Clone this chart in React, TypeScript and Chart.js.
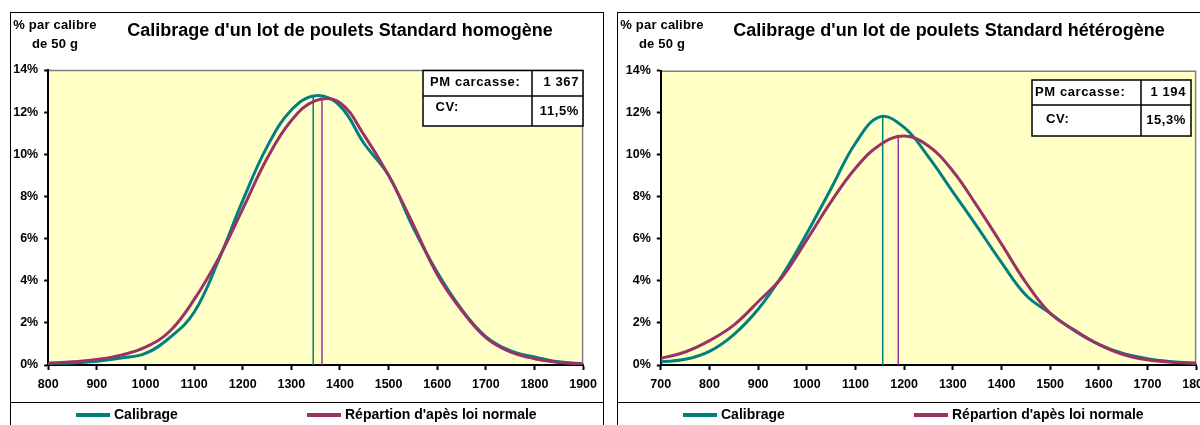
import React, { useEffect, useRef } from "react";
import { Chart, registerables } from "chart.js";

Chart.register(...registerables);

// ---------- DATA ----------
const legendLabels = ["Calibrage", "Répartion d'apès loi normale"];
const yCaption = ["% par calibre", "de 50 g"];
const yMin = 0;
const yMax = 14;
const yStep = 2;
const xStep = 100;

// Left chart : homogeneous lot
const title1 = "Calibrage d'un lot de poulets Standard homogène";
const calibres1 = [800, 850, 900, 950, 1000, 1050, 1100, 1150, 1200, 1250, 1300, 1350, 1400, 1450, 1500, 1550, 1600, 1650, 1700, 1750, 1800, 1850, 1900];
const calibrage1 = [0.08, 0.1, 0.18, 0.33, 0.55, 1.3, 2.5, 4.95, 7.8, 10.35, 12.1, 12.78, 12.3, 10.5, 9.0, 6.55, 4.4, 2.65, 1.35, 0.68, 0.38, 0.15, 0.05];
const normale1 = [0.08, 0.15, 0.26, 0.47, 0.85, 1.6, 3.1, 5.05, 7.4, 9.8, 11.6, 12.55, 12.45, 10.9, 9.0, 6.7, 4.3, 2.6, 1.3, 0.62, 0.3, 0.12, 0.05];
const modeX1 = 1345;
const modeTop1 = 12.78;
const meanX1 = 1363;
const meanTop1 = 12.6;
const tableLabels1 = ["PM carcasse:", "CV:"];
const tableValues1 = ["1 367", "11,5%"];

// Right chart : heterogeneous lot
const title2 = "Calibrage d'un lot de poulets Standard hétérogène";
const calibres2 = [700, 750, 800, 850, 900, 950, 1000, 1050, 1100, 1150, 1200, 1250, 1300, 1350, 1400, 1450, 1500, 1550, 1600, 1650, 1700, 1750, 1800];
const calibrage2 = [0.15, 0.27, 0.65, 1.45, 2.65, 4.28, 6.26, 8.4, 10.55, 11.8, 11.3, 9.9, 8.24, 6.58, 4.88, 3.33, 2.46, 1.63, 0.98, 0.55, 0.3, 0.16, 0.08];
const normale2 = [0.32, 0.62, 1.16, 1.9, 3.01, 4.2, 5.95, 7.77, 9.36, 10.47, 10.89, 10.42, 9.23, 7.56, 5.76, 3.93, 2.46, 1.66, 0.98, 0.5, 0.25, 0.13, 0.08];
const modeX2 = 1156;
const modeTop2 = 11.8;
const meanX2 = 1188;
const meanTop2 = 10.92;
const tableLabels2 = ["PM carcasse:", "CV:"];
const tableValues2 = ["1 194", "15,3%"];

// ---------- STYLE ----------
const FONT = '"Liberation Sans", Arial, Helvetica, sans-serif';
const TEAL = "#008080";
const PLUM = "#993366";
const MAGENTA = "#993399";
const PLOT_BG = "#FFFFC6";

type Cfg = {
  left: number;
  top: number;
  w: number;
  h: number;
  area: { left: number; top: number; right: number; bottom: number };
  title: string;
  titleX: number;
  xs: number[];
  calib: number[];
  norm: number[];
  modeX: number;
  modeTop: number;
  meanX: number;
  meanTop: number;
  tLabels: string[];
  tValues: string[];
  table: { l: number; c: number; r: number; t: number; m: number; b: number; lab1: number; lab2: number; val: number; y1: number; y2: number; vy1: number; vy2: number };
};

const cfgLeft: Cfg = {
  left: 10,
  top: 12,
  w: 594,
  h: 420,
  area: { left: 38.2, top: 58, right: 576, bottom: 353 },
  title: title1,
  titleX: 330,
  xs: calibres1,
  calib: calibrage1,
  norm: normale1,
  modeX: modeX1,
  modeTop: modeTop1,
  meanX: meanX1,
  meanTop: meanTop1,
  tLabels: tableLabels1,
  tValues: tableValues1,
  table: { l: 413, c: 522, r: 573, t: 58.5, m: 84, b: 114, lab1: 420, lab2: 425.5, val: 568, y1: 70, y2: 95.5, vy1: 70, vy2: 99 },
};

const cfgRight: Cfg = {
  left: 617,
  top: 12,
  w: 600,
  h: 420,
  area: { left: 43.8, top: 58.7, right: 579.5, bottom: 353 },
  title: title2,
  titleX: 332,
  xs: calibres2,
  calib: calibrage2,
  norm: normale2,
  modeX: modeX2,
  modeTop: modeTop2,
  meanX: meanX2,
  meanTop: meanTop2,
  tLabels: tableLabels2,
  tValues: tableValues2,
  table: { l: 415, c: 524, r: 574, t: 68, m: 93, b: 124, lab1: 418, lab2: 429, val: 568, y1: 80, y2: 107, vy1: 80, vy2: 108 },
};

function makeDecor(cfg: Cfg) {
  return {
    id: "decor",
    beforeDraw(chart: any) {
      const { ctx, chartArea: a } = chart;
      ctx.save();
      ctx.fillStyle = "#ffffff";
      ctx.fillRect(0, 0, chart.width, chart.height);
      ctx.fillStyle = PLOT_BG;
      ctx.fillRect(a.left, a.top, a.right - a.left, a.bottom - a.top);
      ctx.strokeStyle = "#808080";
      ctx.lineWidth = 1.5;
      ctx.beginPath();
      ctx.moveTo(a.left, a.top + 0.5);
      ctx.lineTo(a.right - 0.5, a.top + 0.5);
      ctx.lineTo(a.right - 0.5, a.bottom);
      ctx.stroke();
      ctx.restore();
    },
    afterDraw(chart: any) {
      const { ctx } = chart;
      const W = chart.width;
      const H = chart.height;
      ctx.save();
      // outer frame
      ctx.strokeStyle = "#000";
      ctx.lineWidth = 1;
      ctx.strokeRect(0.5, 0.5, W - 1, H - 1);

      // title
      ctx.fillStyle = "#000";
      ctx.font = `bold 18px ${FONT}`;
      ctx.textAlign = "center";
      ctx.textBaseline = "alphabetic";
      ctx.fillText(cfg.title, cfg.titleX, 24);

      // y caption
      ctx.font = `bold 13px ${FONT}`;
      (ctx as any).letterSpacing = "0.2px";
      ctx.fillText(yCaption[0], 45, 16.5);
      ctx.fillText(yCaption[1], 45, 35.5);

      // info table
      const t = cfg.table;
      ctx.fillStyle = "#fff";
      ctx.fillRect(t.l, t.t, t.r - t.l, t.b - t.t);
      ctx.strokeStyle = "#000";
      ctx.lineWidth = 1.5;
      ctx.strokeRect(t.l, t.t, t.r - t.l, t.b - t.t);
      ctx.beginPath();
      ctx.moveTo(t.l, t.m);
      ctx.lineTo(t.r, t.m);
      ctx.moveTo(t.c, t.t);
      ctx.lineTo(t.c, t.b);
      ctx.stroke();
      ctx.fillStyle = "#000";
      ctx.font = `bold 13px ${FONT}`;
      (ctx as any).letterSpacing = "0.6px";
      ctx.textBaseline = "middle";
      ctx.textAlign = "left";
      ctx.fillText(cfg.tLabels[0], t.lab1, t.y1);
      ctx.fillText(cfg.tLabels[1], t.lab2, t.y2);
      ctx.textAlign = "right";
      ctx.fillText(cfg.tValues[0], t.val + 1, t.vy1);
      ctx.fillText(cfg.tValues[1], t.val + 1, t.vy2);
      (ctx as any).letterSpacing = "0px";

      // legend area
      ctx.lineWidth = 1;
      ctx.beginPath();
      ctx.moveTo(0, 390.5);
      ctx.lineTo(W, 390.5);
      ctx.stroke();
      const items = [
        { x: 66, ds: chart.data.datasets[0] },
        { x: 297, ds: chart.data.datasets[1] },
      ];
      ctx.font = `bold 14px ${FONT}`;
      ctx.textAlign = "left";
      ctx.textBaseline = "middle";
      items.forEach((it) => {
        ctx.strokeStyle = it.ds.borderColor;
        ctx.lineWidth = 4;
        ctx.beginPath();
        ctx.moveTo(it.x, 403);
        ctx.lineTo(it.x + 34, 403);
        ctx.stroke();
        ctx.fillStyle = "#000";
        ctx.fillText(it.ds.label, it.x + 38, 403);
      });
      ctx.restore();
    },
  };
}

function CalibrageChart({ cfg }: { cfg: Cfg }) {
  const ref = useRef<HTMLCanvasElement>(null);
  useEffect(() => {
    const canvas = ref.current;
    if (!canvas) return;
    const a = cfg.area;
    const xHeight = 30;
    const chart = new Chart(canvas, {
      type: "line",
      data: {
        datasets: [
          {
            label: legendLabels[0],
            data: cfg.xs.map((x, i) => ({ x, y: cfg.calib[i] })),
            borderColor: TEAL,
            backgroundColor: TEAL,
            borderWidth: 3,
            tension: 0.4,
            pointRadius: 0,
            order: 1,
          },
          {
            label: legendLabels[1],
            data: cfg.xs.map((x, i) => ({ x, y: cfg.norm[i] })),
            borderColor: PLUM,
            backgroundColor: PLUM,
            borderWidth: 3,
            tension: 0.4,
            pointRadius: 0,
            order: 0,
          },
          {
            label: "mode",
            data: [
              { x: cfg.modeX, y: yMin },
              { x: cfg.modeX, y: cfg.modeTop },
            ],
            borderColor: TEAL,
            borderWidth: 1.5,
            pointRadius: 0,
            order: 2,
          },
          {
            label: "moyenne",
            data: [
              { x: cfg.meanX, y: yMin },
              { x: cfg.meanX, y: cfg.meanTop },
            ],
            borderColor: MAGENTA,
            borderWidth: 1.5,
            pointRadius: 0,
            order: 2,
          },
        ],
      },
      options: {
        responsive: false,
        animation: false,
        events: [],
        layout: {
          padding: {
            left: 0,
            top: a.top,
            right: cfg.w - a.right,
            bottom: cfg.h - a.bottom - xHeight,
          },
        },
        plugins: {
          legend: { display: false },
          title: { display: false },
          tooltip: { enabled: false },
        },
        scales: {
          x: {
            type: "linear",
            min: cfg.xs[0],
            max: cfg.xs[cfg.xs.length - 1],
            ticks: {
              stepSize: xStep,
              color: "#000",
              font: { family: FONT, size: 12.5, weight: "bold" },
              padding: 7,
              maxRotation: 0,
              autoSkip: false,
              callback: (v: any) => String(v),
            },
            grid: {
              display: true,
              drawOnChartArea: false,
              drawTicks: true,
              tickLength: 5,
              tickWidth: 2,
              tickColor: "#000",
            },
            border: { display: true, color: "#000", width: 2 },
            afterFit: (s: any) => {
              s.height = xHeight;
            },
          },
          y: {
            type: "linear",
            min: yMin,
            max: yMax,
            ticks: {
              stepSize: yStep,
              color: "#000",
              font: { family: FONT, size: 12.5, weight: "bold" },
              padding: 6,
              callback: (v: any) => `${v}%`,
            },
            grid: {
              display: true,
              drawOnChartArea: false,
              drawTicks: true,
              tickLength: 4,
              tickWidth: 2,
              tickColor: "#000",
            },
            border: { display: true, color: "#000", width: 2 },
            afterFit: (s: any) => {
              s.width = a.left;
            },
          },
        },
      } as any,
      plugins: [makeDecor(cfg)],
    });
    return () => chart.destroy();
  }, [cfg]);
  return (
    <canvas
      ref={ref}
      width={cfg.w}
      height={cfg.h}
      style={{ position: "absolute", left: cfg.left, top: cfg.top, width: cfg.w, height: cfg.h }}
    />
  );
}

export default function App() {
  return (
    <div
      style={{
        position: "fixed",
        left: 0,
        top: 0,
        width: 1200,
        height: 425,
        overflow: "hidden",
        background: "#fff",
      }}
    >
      <CalibrageChart cfg={cfgLeft} />
      <CalibrageChart cfg={cfgRight} />
    </div>
  );
}
